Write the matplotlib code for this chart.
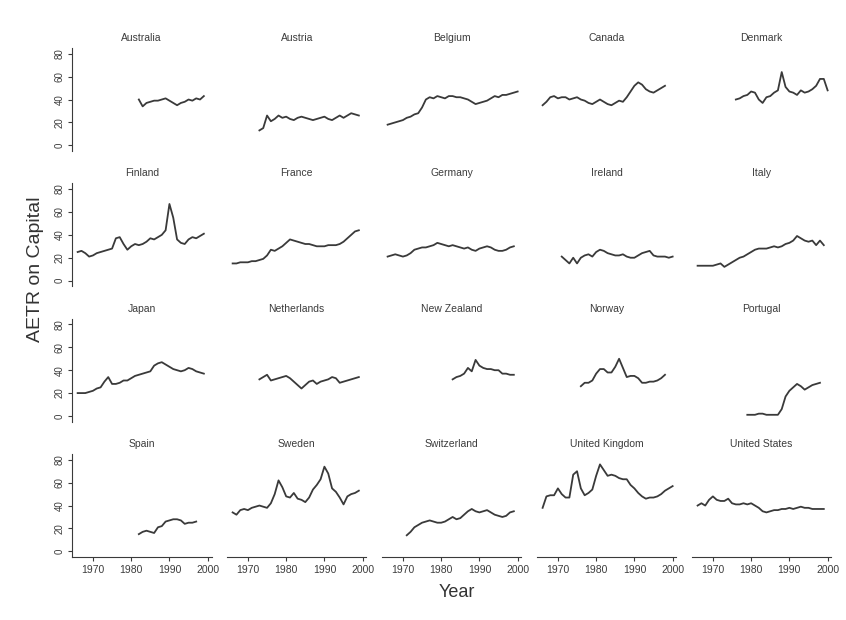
import matplotlib
matplotlib.use("Agg")
import matplotlib.pyplot as plt
import numpy as np

plt.rcParams['font.family'] = ['Liberation Sans', 'DejaVu Sans']

# panel order, left to right, top to bottom
countries = ['Australia', 'Austria', 'Belgium', 'Canada', 'Denmark',
             'Finland', 'France', 'Germany', 'Ireland', 'Italy',
             'Japan', 'Netherlands', 'New Zealand', 'Norway', 'Portugal',
             'Spain', 'Sweden', 'Switzerland', 'United Kingdom', 'United States']

# first year of each series (one value per year afterwards)
start_year = {
    'Australia': 1982, 'Austria': 1973, 'Belgium': 1966, 'Canada': 1966,
    'Denmark': 1976, 'Finland': 1966, 'France': 1966, 'Germany': 1966,
    'Ireland': 1971, 'Italy': 1966, 'Japan': 1966, 'Netherlands': 1973,
    'New Zealand': 1983, 'Norway': 1976, 'Portugal': 1979, 'Spain': 1982,
    'Sweden': 1966, 'Switzerland': 1971, 'United Kingdom': 1966,
    'United States': 1966,
}

australia = [40, 34, 37, 38, 39, 39, 40, 41, 39, 37, 35, 37, 38, 40, 39, 41, 40, 43]
austria = [13, 15, 26, 21, 23, 26, 24, 25, 23, 22, 24, 25, 24, 23, 22, 23, 24, 25,
           23, 22, 24, 26, 24, 26, 28, 27, 26]
belgium = [18, 19, 20, 21, 22, 24, 25, 27, 28, 33, 40, 42, 41, 43, 42, 41, 43, 43,
           42, 42, 41, 40, 38, 36, 37, 38, 39, 41, 43, 42, 44, 44, 45, 46, 47]
canada = [35, 38, 42, 43, 41, 42, 42, 40, 41, 42, 40, 39, 37, 36, 38, 40, 38, 36,
          35, 37, 39, 38, 42, 47, 52, 55, 53, 49, 47, 46, 48, 50, 52]
denmark = [40, 41, 43, 44, 47, 46, 40, 37, 42, 43, 46, 48, 64, 51, 47, 46, 44, 48,
           46, 47, 49, 52, 58, 58, 48]
finland = [25, 26, 24, 21, 22, 24, 25, 26, 27, 28, 37, 38, 32, 27, 30, 32, 31, 32,
           34, 37, 36, 38, 40, 44, 67, 55, 36, 33, 32, 36, 38, 37, 39, 41]
france = [15, 15, 16, 16, 16, 17, 17, 18, 19, 22, 27, 26, 28, 30, 33, 36, 35, 34,
          33, 32, 32, 31, 30, 30, 30, 31, 31, 31, 32, 34, 37, 40, 43, 44]
germany = [21, 22, 23, 22, 21, 22, 24, 27, 28, 29, 29, 30, 31, 33, 32, 31, 30, 31,
           30, 29, 28, 29, 27, 26, 28, 29, 30, 29, 27, 26, 26, 27, 29, 30]
ireland = [21, 18, 15, 20, 15, 20, 22, 23, 21, 25, 27, 26, 24, 23, 22, 22, 23, 21,
           20, 20, 22, 24, 25, 26, 22, 21, 21, 21, 20, 21]
italy = [13, 13, 13, 13, 13, 14, 15, 12, 14, 16, 18, 20, 21, 23, 25, 27, 28, 28,
         28, 29, 30, 29, 30, 32, 33, 35, 39, 37, 35, 34, 35, 31, 35, 31]
japan = [20, 20, 20, 21, 22, 24, 25, 30, 34, 28, 28, 29, 31, 31, 33, 35, 36, 37,
         38, 39, 44, 46, 47, 45, 43, 41, 40, 39, 40, 42, 41, 39, 38, 37]
netherlands = [32, 34, 36, 31, 32, 33, 34, 35, 33, 30, 27, 24, 27, 30, 31, 28, 30,
               31, 32, 34, 33, 29, 30, 31, 32, 33, 34]
new_zealand = [32, 34, 35, 37, 42, 39, 49, 44, 42, 41, 41, 40, 40, 37, 37, 36, 36]
norway = [26, 29, 29, 31, 37, 41, 41, 38, 38, 43, 50, 42, 34, 35, 35, 33, 29, 29,
          30, 30, 31, 33, 36]
portugal = [1, 1, 1, 2, 2, 1, 1, 1, 1, 6, 17, 22, 25, 28, 26, 23, 25, 27, 28, 29]
spain = [15, 17, 18, 17, 16, 21, 22, 26, 27, 28, 28, 27, 24, 25, 25, 26]
sweden = [34, 32, 36, 37, 36, 38, 39, 40, 39, 38, 42, 50, 62, 56, 48, 47, 51, 46,
          45, 43, 47, 54, 58, 63, 74, 68, 55, 52, 47, 41, 48, 50, 51, 53]
switzerland = [14, 17, 21, 23, 25, 26, 27, 26, 25, 25, 26, 28, 30, 28, 29, 32, 35,
               37, 35, 34, 35, 36, 34, 32, 31, 30, 31, 34, 35]
united_kingdom = [38, 48, 49, 49, 55, 50, 47, 47, 67, 70, 55, 49, 51, 54, 66, 76,
                  71, 66, 67, 66, 64, 63, 63, 58, 55, 51, 48, 46, 47, 47, 48, 50,
                  53, 55, 57]
united_states = [40, 42, 40, 45, 48, 45, 44, 44, 46, 42, 41, 41, 42, 41, 42, 40, 38,
                 35, 34, 35, 36, 36, 37, 37, 38, 37, 38, 39, 38, 38, 37, 37, 37, 37]

series = {
    'Australia': australia, 'Austria': austria, 'Belgium': belgium,
    'Canada': canada, 'Denmark': denmark, 'Finland': finland,
    'France': france, 'Germany': germany, 'Ireland': ireland, 'Italy': italy,
    'Japan': japan, 'Netherlands': netherlands, 'New Zealand': new_zealand,
    'Norway': norway, 'Portugal': portugal, 'Spain': spain, 'Sweden': sweden,
    'Switzerland': switzerland, 'United Kingdom': united_kingdom,
    'United States': united_states,
}

x_ticks = [1970, 1980, 1990, 2000]
y_ticks = [0, 20, 40, 60, 80]

fig = plt.figure(figsize=(8.46, 6.2), dpi=100)

left0, width, xstep = 0.085, 0.165, 0.1832
bottom_row, height, ystep = 0.1016, 0.166, 0.2183
line_col = '#3a3a3a'
txt_col = '#3c3c3c'

for i, name in enumerate(countries):
    r, c = divmod(i, 5)
    ax = fig.add_axes([left0 + c * xstep, bottom_row + (3 - r) * ystep, width, height])
    vals = series[name]
    yrs = np.arange(start_year[name], start_year[name] + len(vals))
    ax.plot(yrs, vals, color=line_col, lw=1.3)
    ax.set_xlim(1964.5, 2001)
    ax.set_ylim(-5, 85)
    for s in ax.spines.values():
        s.set_visible(False)
    ax.set_title(name, fontsize=7.5, color=txt_col, pad=5)
    if c == 0:
        ax.spines['left'].set_visible(True)
        ax.spines['left'].set_color(line_col)
        ax.set_yticks(y_ticks)
        ax.set_yticklabels([str(v) for v in y_ticks], rotation=90, va='center',
                           fontsize=7, color=txt_col)
        ax.tick_params(axis='y', length=3, color=line_col, pad=2)
    else:
        ax.set_yticks([])
    if r == 3:
        ax.spines['bottom'].set_visible(True)
        ax.spines['bottom'].set_color(line_col)
        ax.set_xticks(x_ticks)
        ax.set_xticklabels([str(v) for v in x_ticks], fontsize=7.5, color=txt_col)
        ax.tick_params(axis='x', length=3, color=line_col, pad=3)
    else:
        ax.set_xticks([])

fig.text(0.042, 0.565, 'AETR on Capital', rotation=90, ha='center', va='center',
         fontsize=14, color='#333333')
fig.text(0.54, 0.044, 'Year', ha='center', va='center', fontsize=13,
         color='#333333')

fig.savefig('out.png', dpi=100, facecolor='white')
